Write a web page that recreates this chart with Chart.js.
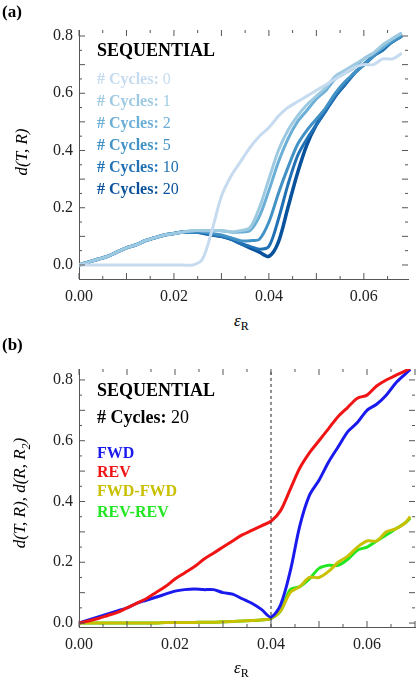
<!DOCTYPE html>
<html><head><meta charset="utf-8">
<script src="https://cdn.jsdelivr.net/npm/chart.js@4"></script>
<style>
body{margin:0;background:#fff;width:416px;height:677px;position:relative;overflow:hidden;font-family:"Liberation Serif","DejaVu Serif",serif;}
.c{position:absolute;left:0;width:416px;}
.t{position:absolute;white-space:nowrap;font-size:16px;line-height:1;}
.b{font-weight:bold;}
.yt{position:absolute;transform:translate(-50%,-50%) rotate(-90deg);font-size:17px;font-style:italic;white-space:nowrap;}
</style></head><body>
<div class="c" style="top:0;height:310px"><canvas id="ca"></canvas></div>
<div class="c" style="top:340px;height:320px"><canvas id="cb"></canvas></div>

<div class="t b" style="left:2px;top:3px;font-size:17px">(a)</div>
<div class="t b" style="left:97px;top:41px;font-size:18px">SEQUENTIAL</div>
<div class="t" style="left:97px;top:71px;color:#c6dbef"><b># Cycles:</b> 0</div>
<div class="t" style="left:97px;top:93px;color:#9ecae1"><b># Cycles:</b> 1</div>
<div class="t" style="left:97px;top:115px;color:#6baed6"><b># Cycles:</b> 2</div>
<div class="t" style="left:97px;top:137px;color:#4292c6"><b># Cycles:</b> 5</div>
<div class="t" style="left:97px;top:159px;color:#2171b5"><b># Cycles:</b> 10</div>
<div class="t" style="left:97px;top:181px;color:#08519c"><b># Cycles:</b> 20</div>
<div class="yt" style="left:22px;top:152px">d(T, R)</div>
<div class="t" style="left:234px;top:312px;font-size:17px"><i>ε</i><sub style="font-size:12px">R</sub></div>

<div class="t b" style="left:2px;top:336px;font-size:17px">(b)</div>
<div class="t b" style="left:97px;top:381px;font-size:18px">SEQUENTIAL</div>
<div class="t" style="left:97px;top:408px;font-size:18px"><b># Cycles:</b> 20</div>
<div class="t b" style="left:97px;top:445px;color:#1a1aee">FWD</div>
<div class="t b" style="left:97px;top:464px;color:#f01414">REV</div>
<div class="t b" style="left:97px;top:483px;color:#c8c000">FWD-FWD</div>
<div class="t b" style="left:97px;top:504px;color:#22e622">REV-REV</div>
<div class="yt" style="left:22px;top:493px">d(T, R), d(R, R<sub style="font-size:12px">2</sub>)</div>
<div class="t" style="left:234px;top:659px;font-size:17px"><i>ε</i><sub style="font-size:12px">R</sub></div>

<script>
// ---------- Panel (a) data ----------
const xA  = [0,.002,.004,.006,.008,.010,.012,.014,.016,.018,.020,.022,.024,.026,.028,.030,.032,.034,.036,.038,.040,.042,.044,.046,.048,.050,.052,.054,.056,.058,.060,.062,.064,.066,.068];
const c0  = [0,0,0,0,0,0,0,0,0,0,0,0,0,.02,.12,.24,.31,.36,.41,.45,.48,.52,.55,.57,.59,.61,.63,.65,.67,.69,.70,.70,.72,.72,.74];
const c1  = [0,.01,.02,.03,.045,.06,.07,.085,.095,.105,.11,.115,.12,.12,.12,.12,.115,.12,.13,.2,.3,.4,.47,.52,.56,.59,.62,.66,.68,.70,.72,.74,.77,.79,.81];
const c2  = [0,.01,.02,.03,.045,.06,.07,.085,.095,.105,.11,.115,.12,.12,.12,.12,.115,.115,.12,.17,.26,.36,.44,.50,.54,.58,.61,.65,.67,.69,.72,.74,.76,.79,.81];
const c5  = [0,.01,.02,.03,.045,.06,.07,.085,.095,.105,.11,.115,.115,.115,.11,.105,.095,.085,.085,.09,.15,.25,.34,.42,.47,.51,.55,.60,.64,.67,.70,.73,.76,.78,.80];
const c10 = [0,.01,.02,.03,.045,.06,.07,.085,.095,.105,.11,.115,.115,.112,.105,.10,.09,.075,.065,.055,.065,.16,.28,.38,.44,.49,.54,.59,.63,.67,.70,.73,.75,.78,.80];
const c20 = [0,.01,.02,.03,.045,.06,.07,.085,.095,.105,.11,.115,.115,.112,.105,.10,.09,.075,.06,.045,.03,.08,.20,.32,.42,.49,.54,.59,.63,.67,.70,.73,.76,.78,.80];

// ---------- Panel (b) data ----------
const xB   = [0,.002,.004,.006,.008,.010,.012,.014,.016,.018,.020,.022,.024,.026,.028,.030,.032,.034,.036,.038,.040,.042,.044,.046,.048,.050,.052,.054,.056,.058,.060,.062,.064,.066,.068,.069];
const fwd  = [0,.01,.02,.03,.04,.05,.065,.075,.085,.095,.105,.11,.112,.11,.11,.10,.095,.08,.065,.045,.02,.06,.17,.32,.42,.47,.53,.58,.63,.66,.70,.72,.75,.79,.82,.835];
const rev  = [0,.007,.015,.025,.035,.05,.065,.08,.10,.12,.145,.165,.185,.21,.23,.25,.27,.29,.305,.32,.335,.37,.44,.51,.56,.60,.64,.68,.71,.74,.75,.78,.80,.815,.83,.84];
const ff   = [0,0,0,0,0,0,0,0,0,.002,.002,.002,.002,.003,.003,.004,.005,.007,.008,.01,.015,.04,.10,.12,.15,.15,.17,.20,.22,.25,.27,.27,.30,.31,.33,.35];
const rr   = [0,0,0,0,0,0,0,0,0,.002,.002,.002,.002,.003,.003,.004,.005,.007,.008,.01,.015,.04,.11,.12,.145,.18,.19,.19,.21,.24,.25,.27,.29,.31,.33,.345];
const vline = {x:[.04,.04], y:[-1,1]};

const FONT = "'Liberation Serif', 'DejaVu Serif', serif";
const pts = (xs, ys) => xs.map((x,i)=>({x, y: ys[i]}));
const line = (xs, ys, color, extra) => Object.assign({data: pts(xs,ys), borderColor: color, borderWidth: 3, pointRadius: 0, tension: 0.3, fill: false}, extra||{});

const inTicks = {
  id:'inTicks',
  afterDraw(ch){
    const {ctx, chartArea:a, scales:{x,y}} = ch;
    ctx.save(); ctx.strokeStyle='#555'; ctx.lineWidth=1;
    for(let v=0; v<=x.max+1e-9; v+=0.005){
      const p=x.getPixelForValue(v); if(p<a.left-0.5||p>a.right+0.5) continue;
      const major = Math.abs(v/0.01-Math.round(v/0.01))<1e-6; const L = major?6:3;
      ctx.beginPath(); ctx.moveTo(p,a.bottom); ctx.lineTo(p,a.bottom-L); ctx.moveTo(p,a.top); ctx.lineTo(p,a.top+L); ctx.stroke();
    }
    for(let v=0; v<=y.max+1e-9; v+=0.05){
      const p=y.getPixelForValue(v); if(p<a.top-0.5||p>a.bottom+0.5) continue;
      const major = Math.abs(v/0.1-Math.round(v/0.1))<1e-6; const L = major?6:3;
      ctx.beginPath(); ctx.moveTo(a.left,p); ctx.lineTo(a.left+L,p); ctx.moveTo(a.right,p); ctx.lineTo(a.right-L,p); ctx.stroke();
    }
    ctx.restore();
  }
};

function opts(xmax, ymin, ymax, pad, yw, xh){
  return {
    responsive:true, maintainAspectRatio:false, animation:false,
    layout:{padding:pad},
    plugins:{legend:{display:false}, tooltip:{enabled:false}},
    scales:{
      x:{type:'linear', min:0, max:xmax,
         afterFit(s){s.height=xh;},
         afterBuildTicks(s){s.ticks=[0,.02,.04,.06].map(v=>({value:v}));},
         ticks:{font:{family:FONT,size:16}, color:'#222', padding:8, maxRotation:0, callback:v=>v.toFixed(2)},
         grid:{display:false, drawTicks:false}, border:{color:'#555', width:1}},
      y:{type:'linear', min:ymin, max:ymax,
         afterFit(s){s.width=yw;},
         afterBuildTicks(s){s.ticks=[0,.2,.4,.6,.8].map(v=>({value:v}));},
         ticks:{font:{family:FONT,size:16}, color:'#222', padding:6, callback:v=>v.toFixed(1)},
         grid:{display:false, drawTicks:false}, border:{color:'#555', width:1}}
    }
  };
}

new Chart(document.getElementById('ca'), {
  type:'line',
  data:{datasets:[
    line(xA,c0,'#c6dbef'), line(xA,c1,'#9ecae1'), line(xA,c2,'#6baed6'),
    line(xA,c5,'#4292c6'), line(xA,c10,'#2171b5'), line(xA,c20,'#08519c',{borderWidth:3.5})
  ]},
  options:opts(0.0693, -0.049, 0.821, {top:30,right:8,left:0,bottom:0}, 79, 31), plugins:[inTicks]
});

new Chart(document.getElementById('cb'), {
  type:'line',
  data:{datasets:[
    line(vline.x, vline.y, '#222', {borderWidth:1, borderDash:[3,3], tension:0}),
    line(xB,rev,'#f01414'), line(xB,fwd,'#1a1aee'),
    line(xB,ff,'#c8c000'), line(xB,rr,'#22e622')
  ]},
  options:opts(0.070, -0.013, 0.836, {top:29,right:1,left:0,bottom:0}, 79, 33), plugins:[inTicks]
});
</script>
</body></html>
